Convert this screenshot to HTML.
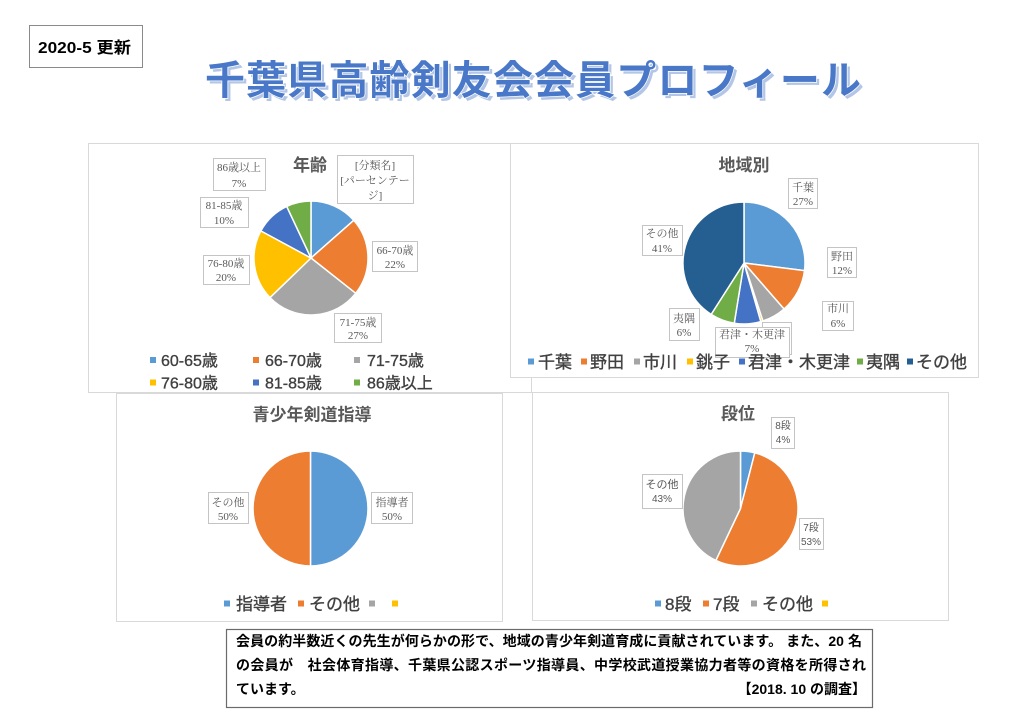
<!DOCTYPE html>
<html lang="ja">
<head>
<meta charset="utf-8">
<style>
  html,body{margin:0;padding:0;background:#fff;}
  svg{display:block;}
  .sans{font-family:"Liberation Sans","Noto Sans CJK JP",sans-serif;}
  .serif{font-family:"Liberation Serif","Noto Serif CJK SC",serif;}
</style>
</head>
<body>
<svg width="1024" height="724" viewBox="0 0 1024 724" xmlns="http://www.w3.org/2000/svg">
  <rect width="1024" height="724" fill="#fff"/>

  <!-- date box -->
  <rect x="29.5" y="25.5" width="113" height="42" fill="#fff" stroke="#8a8a8a" stroke-width="1"/>
  <text class="sans" x="38" y="53" font-size="16" font-weight="bold" fill="#000" textLength="93" lengthAdjust="spacingAndGlyphs">2020-5 更新</text>

  <!-- main title -->
  <text class="sans" x="208" y="97" font-size="40" font-weight="bold" fill="#b3c6e6" textLength="656" lengthAdjust="spacing">千葉県高齢剣友会会員プロフィール</text>
  <text class="sans" x="205" y="94" font-size="40" font-weight="bold" fill="#4a78c8" stroke="#ffffff" stroke-width="1.5" paint-order="stroke" textLength="656" lengthAdjust="spacing">千葉県高齢剣友会会員プロフィール</text>

  <!-- ============ Chart 1 : 年齢 ============ -->
  <rect x="88.5" y="143.5" width="443" height="249" fill="#fff" stroke="#d9d9d9"/>
  <text class="sans" x="310" y="171" font-size="17" font-weight="bold" fill="#595959" text-anchor="middle">年齢</text>
  <g stroke="#fff" stroke-width="1.5" stroke-linejoin="round">
    <path d="M311,258 L311,201 A57,57 0 0 1 353.76,220.31 Z" fill="#5B9BD5"/>
    <path d="M311,258 L353.76,220.31 A57,57 0 0 1 355.72,293.33 Z" fill="#ED7D31"/>
    <path d="M311,258 L355.72,293.33 A57,57 0 0 1 270.00,297.60 Z" fill="#A5A5A5"/>
    <path d="M311,258 L270.00,297.60 A57,57 0 0 1 260.86,230.89 Z" fill="#FFC000"/>
    <path d="M311,258 L260.86,230.89 A57,57 0 0 1 286.73,206.43 Z" fill="#4472C4"/>
    <path d="M311,258 L286.73,206.43 A57,57 0 0 1 311,201 Z" fill="#70AD47"/>
  </g>
  <g fill="#fff" stroke="#c4c4c4" stroke-width="1">
    <rect x="337.5" y="155.5" width="76" height="48"/>
    <rect x="372.5" y="241.5" width="45" height="30"/>
    <rect x="334.5" y="313.5" width="47" height="29"/>
    <rect x="203.5" y="255.5" width="46" height="29"/>
    <rect x="200.5" y="197.5" width="48" height="30"/>
    <rect x="213.5" y="158.5" width="52" height="32"/>
  </g>
  <g class="serif" font-size="11" fill="#595959" text-anchor="middle">
    <text x="375" y="169">[分類名]</text>
    <text x="375" y="184">[パーセンテー</text>
    <text x="375" y="199">ジ]</text>
    <text x="395" y="254">66-70歳</text>
    <text x="395" y="268">22%</text>
    <text x="358" y="326">71-75歳</text>
    <text x="358" y="339">27%</text>
    <text x="226" y="267">76-80歳</text>
    <text x="226" y="281">20%</text>
    <text x="224" y="209">81-85歳</text>
    <text x="224" y="224">10%</text>
    <text x="239" y="171">86歳以上</text>
    <text x="239" y="187">7%</text>
  </g>
  <g>
    <rect x="150" y="357" width="6" height="6" fill="#5B9BD5"/>
    <rect x="253" y="357" width="6" height="6" fill="#ED7D31"/>
    <rect x="354" y="357" width="6" height="6" fill="#A5A5A5"/>
    <rect x="150" y="379.5" width="6" height="6" fill="#FFC000"/>
    <rect x="253" y="379.5" width="6" height="6" fill="#4472C4"/>
    <rect x="354" y="379.5" width="6" height="6" fill="#70AD47"/>
  </g>
  <g class="sans" font-size="16" fill="#404040" stroke="#404040" stroke-width="0.35">
    <text x="161" y="366">60-65歳</text>
    <text x="265" y="366">66-70歳</text>
    <text x="367" y="366">71-75歳</text>
    <text x="161" y="388.5">76-80歳</text>
    <text x="265" y="388.5">81-85歳</text>
    <text x="367" y="388.5">86歳以上</text>
  </g>

  <!-- ============ Chart 2 : 地域別 ============ -->
  <rect x="510.5" y="143.5" width="468" height="234" fill="#fff" stroke="#d9d9d9"/>
  <text class="sans" x="744" y="171" font-size="17" font-weight="bold" fill="#595959" text-anchor="middle">地域別</text>
  <g stroke="#fff" stroke-width="1.5" stroke-linejoin="round">
    <path d="M744,263 L744,202 A61,61 0 0 1 804.52,270.65 Z" fill="#5B9BD5"/>
    <path d="M744,263 L804.52,270.65 A61,61 0 0 1 784.02,309.04 Z" fill="#ED7D31"/>
    <path d="M744,263 L784.02,309.04 A61,61 0 0 1 762.85,321.01 Z" fill="#A5A5A5"/>
    <path d="M744,263 L762.85,321.01 A61,61 0 0 1 760.81,321.64 Z" fill="#FFC000"/>
    <path d="M744,263 L760.81,321.64 A61,61 0 0 1 734.25,323.22 Z" fill="#4472C4"/>
    <path d="M744,263 L734.25,323.22 A61,61 0 0 1 711.14,314.39 Z" fill="#70AD47"/>
    <path d="M744,263 L711.14,314.39 A61,61 0 0 1 744,202 Z" fill="#255E91"/>
  </g>
  <g fill="#fff" stroke="#c4c4c4" stroke-width="1">
    <rect x="788.5" y="178.5" width="29" height="30"/>
    <rect x="827.5" y="247.5" width="29" height="30"/>
    <rect x="822.5" y="301.5" width="31" height="29"/>
    <rect x="762.5" y="322.5" width="29" height="32"/>
    <rect x="715.5" y="327.5" width="74" height="30"/>
    <rect x="669.5" y="308.5" width="30" height="32"/>
    <rect x="642.5" y="225.5" width="40" height="30"/>
  </g>
  <g class="serif" font-size="11" fill="#595959" text-anchor="middle">
    <text x="803" y="191">千葉</text>
    <text x="803" y="205">27%</text>
    <text x="842" y="260">野田</text>
    <text x="842" y="274">12%</text>
    <text x="838" y="312">市川</text>
    <text x="838" y="327">6%</text>
    <text x="752" y="338">君津・木更津</text>
    <text x="752" y="352">7%</text>
    <text x="684" y="322">夷隅</text>
    <text x="684" y="336">6%</text>
    <text x="662" y="237">その他</text>
    <text x="662" y="252">41%</text>
  </g>
  <g>
    <rect x="528" y="358.5" width="6" height="6" fill="#5B9BD5"/>
    <rect x="581" y="358.5" width="6" height="6" fill="#ED7D31"/>
    <rect x="634" y="358.5" width="6" height="6" fill="#A5A5A5"/>
    <rect x="687" y="358.5" width="6" height="6" fill="#FFC000"/>
    <rect x="739" y="358.5" width="6" height="6" fill="#4472C4"/>
    <rect x="857" y="358.5" width="6" height="6" fill="#70AD47"/>
    <rect x="907" y="358.5" width="6" height="6" fill="#255E91"/>
  </g>
  <g class="sans" font-size="17" fill="#404040" stroke="#404040" stroke-width="0.35">
    <text x="538" y="368">千葉</text>
    <text x="590" y="368">野田</text>
    <text x="643" y="368">市川</text>
    <text x="696" y="368">銚子</text>
    <text x="748" y="368">君津・木更津</text>
    <text x="866" y="368">夷隅</text>
    <text x="916" y="368">その他</text>
  </g>

  <!-- ============ Chart 3 : 青少年剣道指導 ============ -->
  <rect x="116.5" y="393.5" width="386" height="228" fill="#fff" stroke="#d9d9d9"/>
  <text class="sans" x="312" y="420.5" font-size="17" font-weight="bold" fill="#595959" text-anchor="middle">青少年剣道指導</text>
  <g stroke="#fff" stroke-width="1.5">
    <path d="M310.5,508.5 L310.5,451 A57.5,57.5 0 0 1 310.5,566 Z" fill="#5B9BD5"/>
    <path d="M310.5,508.5 L310.5,566 A57.5,57.5 0 0 1 310.5,451 Z" fill="#ED7D31"/>
  </g>
  <g fill="#fff" stroke="#c4c4c4" stroke-width="1">
    <rect x="208.5" y="492.5" width="40" height="31"/>
    <rect x="371.5" y="492.5" width="41" height="31"/>
  </g>
  <g class="serif" font-size="11" fill="#595959" text-anchor="middle">
    <text x="228" y="506">その他</text>
    <text x="228" y="520">50%</text>
    <text x="392" y="506">指導者</text>
    <text x="392" y="520">50%</text>
  </g>
  <g>
    <rect x="224" y="600.5" width="6" height="6" fill="#5B9BD5"/>
    <rect x="298" y="600.5" width="6" height="6" fill="#ED7D31"/>
    <rect x="369" y="600.5" width="6" height="6" fill="#A5A5A5"/>
    <rect x="392" y="600.5" width="6" height="6" fill="#FFC000"/>
  </g>
  <g class="sans" font-size="17" fill="#404040" stroke="#404040" stroke-width="0.35">
    <text x="236" y="610">指導者</text>
    <text x="309" y="610">その他</text>
  </g>

  <!-- ============ Chart 4 : 段位 ============ -->
  <rect x="532.5" y="392.5" width="416" height="228" fill="#fff" stroke="#d9d9d9"/>
  <text class="sans" x="738" y="419.5" font-size="17" font-weight="bold" fill="#595959" text-anchor="middle">段位</text>
  <g stroke="#fff" stroke-width="1.5" stroke-linejoin="round">
    <path d="M740.5,508.5 L740.5,451 A57.5,57.5 0 0 1 754.80,452.81 Z" fill="#5B9BD5"/>
    <path d="M740.5,508.5 L754.80,452.81 A57.5,57.5 0 1 1 715.84,560.44 Z" fill="#ED7D31"/>
    <path d="M740.5,508.5 L715.84,560.44 A57.5,57.5 0 0 1 740.5,451 Z" fill="#A5A5A5"/>
  </g>
  <g fill="#fff" stroke="#c4c4c4" stroke-width="1">
    <rect x="771.5" y="417.5" width="23" height="31"/>
    <rect x="799.5" y="518.5" width="24" height="31"/>
    <rect x="642.5" y="474.5" width="40" height="34"/>
  </g>
  <g class="sans" font-size="10" fill="#595959" text-anchor="middle">
    <text x="783" y="429">8段</text>
    <text x="783" y="443">4%</text>
    <text x="811" y="531">7段</text>
    <text x="811" y="545">53%</text>
    <text x="662" y="488" font-size="11">その他</text>
    <text x="662" y="502">43%</text>
  </g>
  <g>
    <rect x="655" y="600.5" width="6" height="6" fill="#5B9BD5"/>
    <rect x="703" y="600.5" width="6" height="6" fill="#ED7D31"/>
    <rect x="751" y="600.5" width="6" height="6" fill="#A5A5A5"/>
    <rect x="822" y="600.5" width="6" height="6" fill="#FFC000"/>
  </g>
  <g class="sans" font-size="17" fill="#404040" stroke="#404040" stroke-width="0.35">
    <text x="665" y="610">8段</text>
    <text x="713" y="610">7段</text>
    <text x="762" y="610">その他</text>
  </g>

  <!-- ============ bottom text box ============ -->
  <rect x="226.5" y="629.5" width="646" height="78" fill="#fff" stroke="#6b6b6b" stroke-width="1.2"/>
  <g class="sans" font-size="14" font-weight="bold" fill="#000">
    <text x="236" y="646" textLength="626" lengthAdjust="spacing">会員の約半数近くの先生が何らかの形で、地域の青少年剣道育成に貢献されています。 また、20 名</text>
    <text x="236" y="670" textLength="630" lengthAdjust="spacing">の会員が　社会体育指導、千葉県公認スポーツ指導員、中学校武道授業協力者等の資格を所得され</text>
    <text x="236" y="694">ています。</text>
    <text x="866" y="694" text-anchor="end">【2018. 10 の調査】</text>
  </g>
</svg>
</body>
</html>
